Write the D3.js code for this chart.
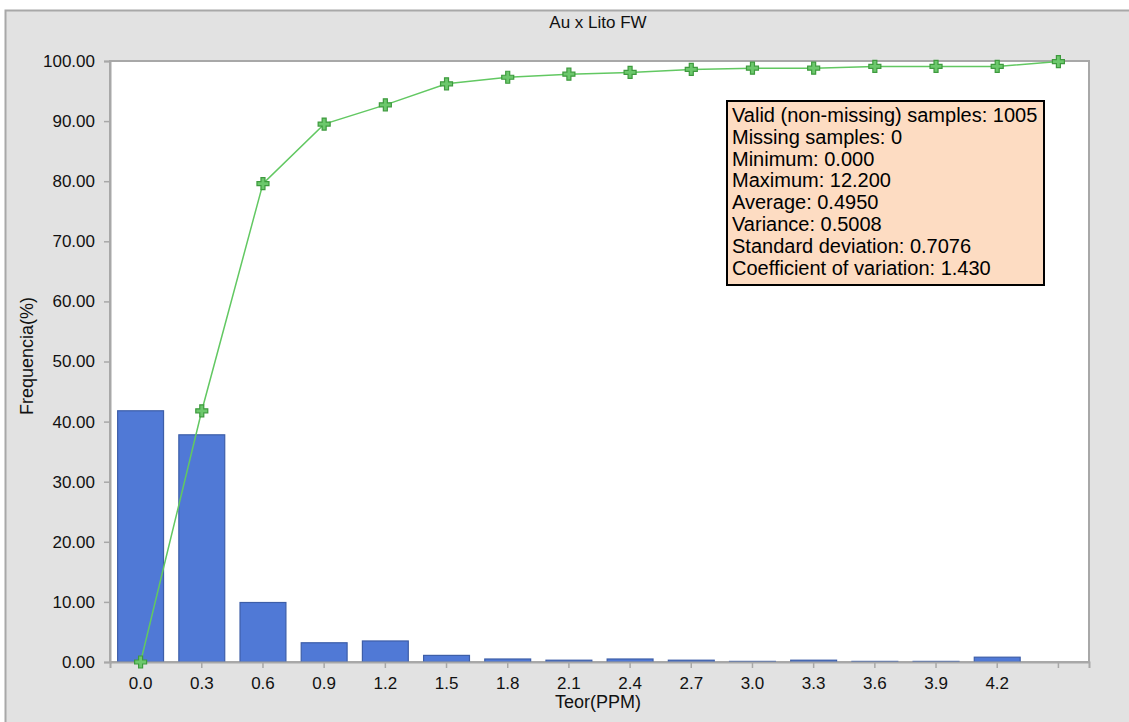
<!DOCTYPE html>
<html lang="en">
<head>
<meta charset="UTF-8">
<title>Au x Lito FW</title>
<script src="https://d3js.org/d3.v7.min.js"></script>
<style>
  body { margin: 0; background: #ffffff; }
  svg { display: block; font-family: "Liberation Sans", Arial, sans-serif; }
</style>
</head>
<body>
<div id="chart"></div>
<script>
// histogram classes (last slot has no label)
const categories = ["0.0", "0.3", "0.6", "0.9", "1.2", "1.5", "1.8", "2.1", "2.4", "2.7", "3.0", "3.3", "3.6", "3.9", "4.2", ""];
// frequency per class (%)
const freq = [41.8, 37.8, 9.9, 3.2, 3.5, 1.1, 0.5, 0.3, 0.5, 0.3, 0.1, 0.3, 0.1, 0.1, 0.8, 0];
// cumulative frequency (%)
const cumulative = [0, 41.8, 79.6, 89.5, 92.7, 96.2, 97.3, 97.8, 98.1, 98.6, 98.8, 98.8, 99.1, 99.1, 99.1, 99.9];
const yTicks = [0, 10, 20, 30, 40, 50, 60, 70, 80, 90, 100];
const statsLines = [
  "Valid (non-missing) samples: 1005",
  "Missing samples: 0",
  "Minimum: 0.000",
  "Maximum: 12.200",
  "Average: 0.4950",
  "Variance: 0.5008",
  "Standard deviation: 0.7076",
  "Coefficient of variation: 1.430"
];

const width = 1129, height = 722;
const plot = { left: 110, top: 61, right: 1089, bottom: 662 };

const svg = d3.select("#chart").append("svg")
  .attr("width", width)
  .attr("height", height);

// outer grey panel
svg.append("rect")
  .attr("x", 5.5).attr("y", 10.5)
  .attr("width", width + 10).attr("height", height + 10)
  .attr("fill", "#e2e2e2")
  .attr("stroke", "#a8a8a8")
  .attr("stroke-width", 2);

svg.append("text")
  .attr("x", 598).attr("y", 28)
  .attr("text-anchor", "middle")
  .attr("font-size", 17)
  .attr("fill", "#111")
  .text("Au x Lito FW");

// plot area
svg.append("rect")
  .attr("x", plot.left).attr("y", plot.top)
  .attr("width", plot.right - plot.left).attr("height", plot.bottom - plot.top)
  .attr("fill", "#ffffff")
  .attr("stroke", "#a8a8a8")
  .attr("stroke-width", 2);

const x = d3.scaleBand()
  .domain(categories.map((c, i) => i))
  .range([plot.left, plot.right])
  .paddingInner(0.25)
  .paddingOuter(0.125);

const y = d3.scaleLinear()
  .domain([0, 100])
  .range([plot.bottom, plot.top]);

// bars
svg.append("g")
  .selectAll("rect")
  .data(freq)
  .join("rect")
  .attr("x", (d, i) => x(i))
  .attr("y", d => y(d))
  .attr("width", x.bandwidth())
  .attr("height", d => y(0) - y(d))
  .attr("fill", "#5079d6")
  .attr("stroke", "#3d5ea8")
  .attr("stroke-width", 1.2);

// y axis
const yAxis = svg.append("g")
  .attr("transform", `translate(${plot.left},0)`)
  .call(d3.axisLeft(y).tickValues(yTicks).tickFormat(d3.format(".2f")).tickSize(6).tickPadding(9));
yAxis.select(".domain").attr("stroke", "#a8a8a8").attr("stroke-width", 2);
yAxis.selectAll(".tick line").attr("stroke", "#a8a8a8").attr("stroke-width", 1.5);
yAxis.selectAll(".tick text").attr("font-size", 17).attr("fill", "#111").attr("font-family", "Liberation Sans, Arial, sans-serif");

// x axis
const xAxis = svg.append("g")
  .attr("transform", `translate(0,${plot.bottom})`)
  .call(d3.axisBottom(x).tickFormat(i => categories[i]).tickSize(6).tickPadding(9));
xAxis.select(".domain").attr("stroke", "#a8a8a8").attr("stroke-width", 2);
xAxis.selectAll(".tick line").attr("stroke", "#a8a8a8").attr("stroke-width", 1.5);
xAxis.selectAll(".tick text").attr("font-size", 17).attr("fill", "#111").attr("font-family", "Liberation Sans, Arial, sans-serif");

// axis titles
svg.append("text")
  .attr("x", 598).attr("y", 708)
  .attr("text-anchor", "middle")
  .attr("font-size", 18)
  .attr("fill", "#111")
  .text("Teor(PPM)");

svg.append("text")
  .attr("transform", "translate(33,356) rotate(-90)")
  .attr("text-anchor", "middle")
  .attr("font-size", 18)
  .attr("fill", "#111")
  .text("Frequencia(%)");

// cumulative line
const cx = i => x(i) + x.bandwidth() / 2;
svg.append("path")
  .datum(cumulative)
  .attr("fill", "none")
  .attr("stroke", "#62c862")
  .attr("stroke-width", 1.5)
  .attr("d", d3.line().x((d, i) => cx(i)).y(d => y(d)));

const cross = "M-2,-6H2V-2H6V2H2V6H-2V2H-6V-2H-2Z";
svg.append("g")
  .selectAll("path")
  .data(cumulative)
  .join("path")
  .attr("transform", (d, i) => `translate(${cx(i)},${y(d)})`)
  .attr("d", cross)
  .attr("fill", "#6cc86c")
  .attr("stroke", "#3e9a3e")
  .attr("stroke-width", 1.2);

// statistics box
const box = svg.append("g").attr("transform", "translate(727,101)");
box.append("rect")
  .attr("width", 317).attr("height", 184)
  .attr("fill", "#fddcc2")
  .attr("stroke", "#000")
  .attr("stroke-width", 2);
box.selectAll("text")
  .data(statsLines)
  .join("text")
  .attr("x", 5)
  .attr("y", (d, i) => 21 + i * 21.8)
  .attr("font-size", 20)
  .attr("fill", "#000")
  .text(d => d);
</script>
</body>
</html>
